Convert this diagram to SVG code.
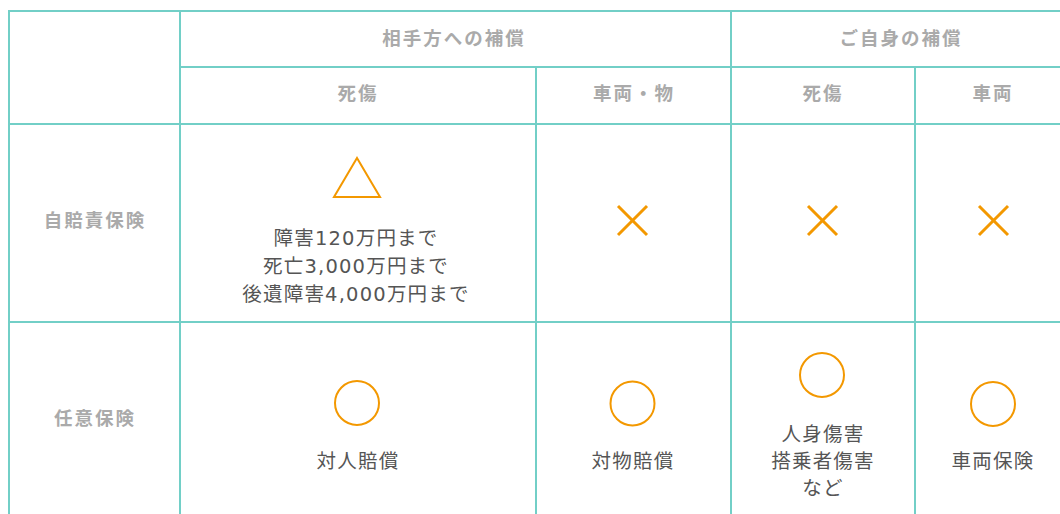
<svg xmlns="http://www.w3.org/2000/svg" width="1060" height="514" viewBox="0 0 1060 514">
<style>
.grid line{stroke:#72cfc7;stroke-width:2}
.h{font-family:"DejaVu Sans","Noto Sans CJK JP",sans-serif;font-size:18.5px;font-weight:bold;fill:#aaaaaa;text-anchor:middle;letter-spacing:2px}
.b{font-family:"DejaVu Sans","Noto Sans CJK JP",sans-serif;font-size:19.5px;fill:#555555;text-anchor:middle;letter-spacing:1.2px}
.mk{fill:none;stroke:#f39800;stroke-width:2}
.x{stroke:#f39800;stroke-width:3}
</style>
<rect width="1060" height="514" fill="#ffffff"/>
<g id="connectors" class="grid">
<line x1="8" y1="11" x2="1060" y2="11"/>
<line x1="180" y1="67" x2="1060" y2="67"/>
<line x1="8" y1="124" x2="1060" y2="124"/>
<line x1="8" y1="322" x2="1060" y2="322"/>
<line x1="9" y1="10" x2="9" y2="514"/>
<line x1="180" y1="10" x2="180" y2="514"/>
<line x1="536" y1="67" x2="536" y2="514"/>
<line x1="731" y1="10" x2="731" y2="514"/>
<line x1="915" y1="67" x2="915" y2="514"/>
</g>
<g id="head-aite"><text class="h" x="454" y="45">相手方への補償</text></g>
<g id="head-gojishin"><text class="h" x="901" y="45">ご自身の補償</text></g>
<g id="head-shisho1"><text class="h" x="358" y="100">死傷</text></g>
<g id="head-sharyobutsu"><text class="h" x="634" y="100">車両・物</text></g>
<g id="head-shisho2"><text class="h" x="823" y="100">死傷</text></g>
<g id="head-sharyo"><text class="h" x="993" y="100">車両</text></g>
<g id="row-jibaiseki"><text class="h" x="95" y="227">自賠責保険</text></g>
<g id="row-nini"><text class="h" x="95" y="425">任意保険</text></g>
<g id="cell-jb-shisho">
<polygon class="mk" points="357,158 380,197 334,197"/>
<text class="b" x="356" y="245">障害120万円まで</text>
<text class="b" x="356" y="273">死亡3,000万円まで</text>
<text class="b" x="356" y="301">後遺障害4,000万円まで</text>
</g>
<g id="cell-jb-butsu"><line class="x" x1="618" y1="206" x2="647" y2="235"/><line class="x" x1="647" y1="206" x2="618" y2="235"/></g>
<g id="cell-jb-jishin"><line class="x" x1="808" y1="206" x2="837" y2="235"/><line class="x" x1="837" y1="206" x2="808" y2="235"/></g>
<g id="cell-jb-sharyo"><line class="x" x1="979" y1="206" x2="1008" y2="235"/><line class="x" x1="1008" y1="206" x2="979" y2="235"/></g>
<g id="cell-nn-taijin"><circle class="mk" cx="357" cy="403" r="22"/><text class="b" x="358" y="468">対人賠償</text></g>
<g id="cell-nn-taibutsu"><circle class="mk" cx="632.5" cy="403.5" r="22"/><text class="b" x="633" y="468">対物賠償</text></g>
<g id="cell-nn-jinshin"><circle class="mk" cx="822" cy="375" r="22"/>
<text class="b" x="823" y="441">人身傷害</text>
<text class="b" x="823" y="468">搭乗者傷害</text>
<text class="b" x="823" y="495">など</text></g>
<g id="cell-nn-sharyo"><circle class="mk" cx="993" cy="404" r="22"/><text class="b" x="993" y="468">車両保険</text></g>
</svg>
